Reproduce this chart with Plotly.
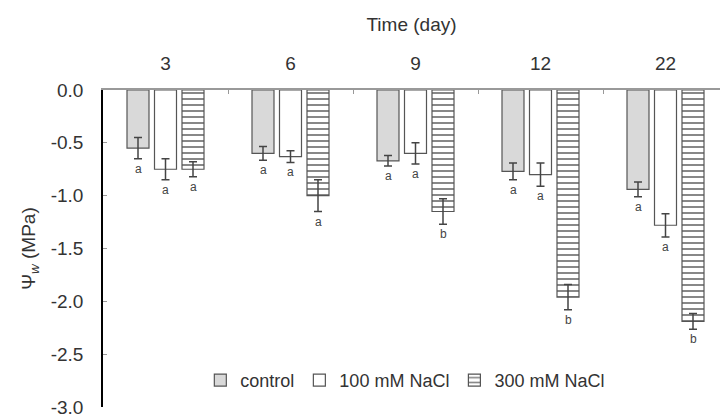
import plotly.graph_objects as go

# Leaf water potential (MPa) by day and salt treatment
days = ["3", "6", "9", "12", "22"]
control = [-0.55, -0.60, -0.67, -0.77, -0.94]
control_err = [0.10, 0.065, 0.05, 0.08, 0.07]
nacl100 = [-0.75, -0.63, -0.60, -0.80, -1.28]
nacl100_err = [0.10, 0.055, 0.10, 0.11, 0.11]
nacl300 = [-0.75, -1.00, -1.15, -1.96, -2.19]
nacl300_err = [0.07, 0.15, 0.12, 0.12, 0.075]
letters_control = ["a", "a", "a", "a", "a"]
letters_100 = ["a", "a", "a", "a", "a"]
letters_300 = ["a", "a", "b", "b", "b"]
y_ticks = [0.0, -0.5, -1.0, -1.5, -2.0, -2.5, -3.0]
y_tick_labels = ["0.0", "-0.5", "-1.0", "-1.5", "-2.0", "-2.5", "-3.0"]

FONT = "Liberation Sans"
TXT = "#333333"
EDGE = "#555555"

series = [
    ("control", control, control_err, letters_control,
     dict(color="#d9d9d9", line=dict(color=EDGE, width=1.2))),
    ("100 mM NaCl", nacl100, nacl100_err, letters_100,
     dict(color="white", line=dict(color=EDGE, width=1.2))),
    ("300 mM NaCl", nacl300, nacl300_err, letters_300,
     dict(color="white", line=dict(color=EDGE, width=1.2),
          pattern=dict(shape="-", fgcolor="#111111", bgcolor="white",
                       size=6, solidity=0.34))),
]

fig = go.Figure()
for name, vals, errs, _, marker in series:
    fig.add_trace(go.Bar(
        x=days, y=vals, name=name, marker=marker,
        error_y=dict(type="data", array=errs, color="#444444",
                     thickness=1.5, width=4),
    ))

# significance letters under each error bar
offsets = [-0.22, 0.0, 0.22]
annotations = []
for k, (_, vals, errs, lets, _) in enumerate(series):
    for i, (v, e, t) in enumerate(zip(vals, errs, lets)):
        annotations.append(dict(
            x=i + offsets[k], y=v - e, xref="x", yref="y",
            text=t, showarrow=False, yanchor="top", yshift=-1,
            font=dict(family=FONT, size=12, color="#444444"),
        ))

fig.update_layout(
    width=720, height=418,
    margin=dict(l=103, r=0, t=90, b=8),
    paper_bgcolor="white", plot_bgcolor="white",
    barmode="group", bargap=0.34, bargroupgap=0.2,
    font=dict(family=FONT, size=20, color=TXT),
    annotations=annotations,
    legend=dict(orientation="h", x=0.49, xanchor="center",
                y=0.084, yanchor="middle", bgcolor="rgba(0,0,0,0)",
                font=dict(family=FONT, size=18, color=TXT),
                itemwidth=30),
    xaxis=dict(
        side="top", type="category", range=[-0.5, 4.436],
        tickson="boundaries", ticks="inside", ticklen=4, tickcolor="#999999",
        showline=True, linecolor="#999999", linewidth=1.5,
        showgrid=False, zeroline=False, ticklabelstandoff=11,
        title=dict(text="Time (day)", standoff=16,
                   font=dict(family=FONT, size=19, color=TXT)),
        tickfont=dict(family=FONT, size=19, color=TXT),
    ),
    yaxis=dict(
        range=[-3, 0], tickmode="array",
        tickvals=y_ticks, ticktext=y_tick_labels,
        ticks="inside", ticklen=4, tickcolor="#999999",
        showline=True, linecolor="black", linewidth=1.5,
        showgrid=False, zeroline=False, ticklabelstandoff=14,
        ticklabeloverflow="allow",
        title=dict(text="Ψ<sub><i>w</i></sub> (MPa)", standoff=10,
                   font=dict(family=FONT, size=19, color=TXT)),
        tickfont=dict(family=FONT, size=19, color=TXT),
    ),
)

fig.write_html("out.html")
